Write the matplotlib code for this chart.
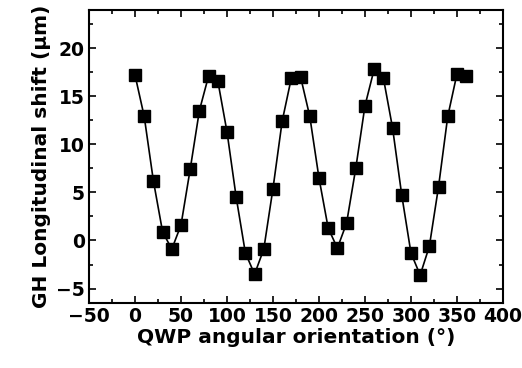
import matplotlib
matplotlib.use("Agg")
import matplotlib.pyplot as plt
from matplotlib.ticker import MultipleLocator

# QWP angle (deg) and GH longitudinal shift (um)
angles = [0, 10, 20, 30, 40, 50, 60, 70, 80, 90, 100, 110, 120, 130, 140, 150, 160, 170, 180,
          190, 200, 210, 220, 230, 240, 250, 260, 270, 280, 290, 300, 310, 320, 330, 340, 350, 360]
shift = [17.2, 12.9, 6.2, 0.9, -0.9, 1.6, 7.4, 13.5, 17.1, 16.6, 11.3, 4.5, -1.3, -3.5, -0.9,
         5.4, 12.4, 16.9, 17.0, 12.9, 6.5, 1.3, -0.8, 1.8, 7.5, 14.0, 17.8, 16.9, 11.7, 4.7,
         -1.3, -3.6, -0.6, 5.6, 12.9, 17.3, 17.1]

plt.rcParams["font.family"] = ["DejaVu Sans"]
plt.rcParams["font.weight"] = "bold"

fig = plt.figure(figsize=(5.22, 3.68), dpi=100)
ax = fig.add_axes([0.1705, 0.1766, 0.793, 0.7974])

ax.plot(angles, shift, color="black", linewidth=1.2, marker="s", markersize=8,
        markerfacecolor="black", markeredgecolor="black")

ax.set_xlim(-50, 400)
ax.set_ylim(-6.5, 24)
ax.xaxis.set_major_locator(MultipleLocator(50))
ax.xaxis.set_minor_locator(MultipleLocator(25))
ax.yaxis.set_major_locator(MultipleLocator(5))
ax.yaxis.set_minor_locator(MultipleLocator(2.5))
ax.set_yticks([-5, 0, 5, 10, 15, 20])

ax.tick_params(which="both", direction="in", top=True, right=True, width=1.2)
ax.tick_params(which="major", length=5, labelsize=13.5, pad=3)
ax.tick_params(which="minor", length=3)
for s in ax.spines.values():
    s.set_linewidth(1.5)

ax.set_xlabel("QWP angular orientation (°)", fontsize=14.5, fontweight="bold", labelpad=1)
ax.set_ylabel("GH Longitudinal shift (µm)", fontsize=14.5, fontweight="bold", labelpad=4)

fig.savefig("out.png", dpi=100)
